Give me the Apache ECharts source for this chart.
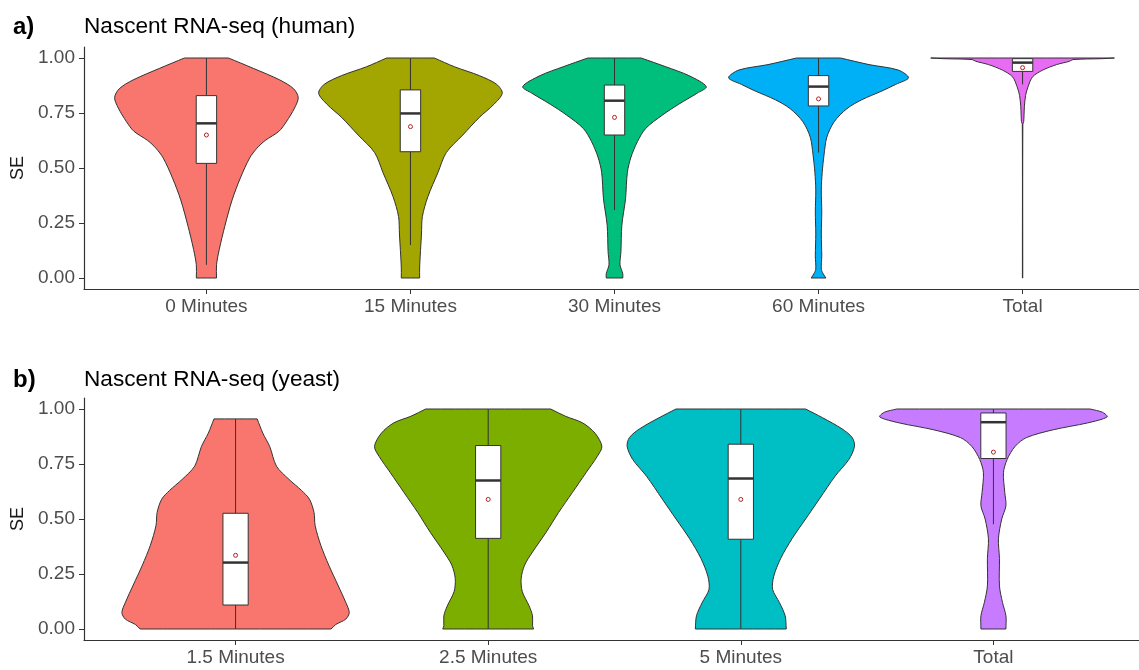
<!DOCTYPE html>
<html>
<head>
<meta charset="utf-8">
<script src="https://cdn.jsdelivr.net/npm/echarts@6/dist/echarts.min.js"></script>
<style>
  html, body { margin: 0; padding: 0; background: #fff; }
  #main { width: 1139px; height: 670px; }
</style>
</head>
<body>
<div id="main"></div>
<script>
// ---- data ----
// violin outlines: [SE value, relative half-width (1 = widest)]
var humanCats = ['0 Minutes', '15 Minutes', '30 Minutes', '60 Minutes', 'Total'];
var human0 = [[0,0.11],[0.06,0.11],[0.13,0.14],[0.235,0.20],[0.355,0.28],[0.455,0.37],[0.545,0.47],[0.59,0.55],[0.625,0.64],[0.667,0.79],[0.71,0.87],[0.773,0.96],[0.82,1.0],[0.86,0.95],[0.90,0.80],[0.953,0.51],[1.0,0.24]];
var human15 = [[0,0.10],[0.05,0.10],[0.20,0.12],[0.28,0.13],[0.37,0.19],[0.48,0.30],[0.57,0.39],[0.65,0.57],[0.73,0.75],[0.79,0.91],[0.84,1.0],[0.88,0.94],[0.92,0.75],[0.96,0.48],[1.0,0.26]];
var human30 = [[0,0.09],[0.02,0.09],[0.06,0.06],[0.12,0.07],[0.24,0.08],[0.36,0.12],[0.48,0.14],[0.55,0.18],[0.62,0.25],[0.68,0.34],[0.74,0.52],[0.79,0.70],[0.84,0.90],[0.87,1.0],[0.92,0.81],[0.96,0.56],[1.0,0.29]];
var human60 = [[0,0.08],[0.02,0.05],[0.04,0.03],[0.1,0.035],[0.2,0.03],[0.3,0.035],[0.4,0.03],[0.48,0.04],[0.56,0.06],[0.64,0.09],[0.71,0.17],[0.77,0.31],[0.81,0.47],[0.85,0.69],[0.88,0.84],[0.91,0.98],[0.945,0.87],[0.97,0.55],[1.0,0.24]];
var humanTot = [[0,0.002],[0.7,0.003],[0.71,0.012],[0.78,0.02],[0.83,0.033],[0.87,0.06],[0.915,0.11],[0.945,0.22],[0.97,0.37],[0.985,0.51],[0.993,0.55],[0.997,0.87],[1.0,1.0]];
// box: [lower whisker, q1, median, q3, upper whisker]
var humanBox = [[0.06,0.521,0.703,0.829,1.0],[0.15,0.574,0.748,0.855,1.0],[0.309,0.65,0.806,0.877,1.0],[0.57,0.782,0.87,0.92,1.0],[0.88,0.939,0.979,0.997,1.0]];
var humanMean = [0.65, 0.688, 0.73, 0.814, 0.956];

var yeastCats = ['1.5 Minutes', '2.5 Minutes', '5 Minutes', 'Total'];
var yeast15 = [[0,0.84],[0.02,0.88],[0.045,0.97],[0.075,1.0],[0.12,0.97],[0.20,0.90],[0.29,0.82],[0.38,0.75],[0.47,0.70],[0.53,0.69],[0.59,0.65],[0.63,0.58],[0.68,0.47],[0.74,0.36],[0.83,0.30],[0.89,0.24],[0.955,0.19]];
var yeast25 = [[0,0.40],[0.015,0.39],[0.06,0.39],[0.105,0.36],[0.17,0.30],[0.23,0.29],[0.29,0.32],[0.35,0.39],[0.44,0.51],[0.53,0.62],[0.62,0.74],[0.71,0.86],[0.785,0.96],[0.83,1.0],[0.89,0.94],[0.937,0.83],[0.967,0.68],[1.0,0.55]];
var yeast5 = [[0,0.40],[0.06,0.39],[0.12,0.34],[0.18,0.28],[0.24,0.29],[0.32,0.35],[0.41,0.45],[0.50,0.57],[0.59,0.69],[0.695,0.83],[0.77,0.95],[0.83,1.0],[0.87,0.98],[0.91,0.89],[0.96,0.72],[1.0,0.57]];
var yeastTot = [[0,0.11],[0.06,0.11],[0.12,0.08],[0.196,0.053],[0.32,0.053],[0.41,0.044],[0.50,0.073],[0.56,0.11],[0.62,0.10],[0.71,0.088],[0.77,0.12],[0.83,0.19],[0.87,0.29],[0.906,0.53],[0.937,0.83],[0.964,1.0],[0.985,0.96],[1.0,0.85]];
var yeastBox = [[0,0.109,0.302,0.526,0.955],[0,0.412,0.675,0.834,1.0],[0,0.408,0.684,0.84,1.0],[0.476,0.775,0.94,0.982,1.0]];
var yeastMean = [0.335, 0.589, 0.589, 0.804];

var yTicks = [0, 0.25, 0.5, 0.75, 1];

var humanColors = ['#F8766D', '#A3A500', '#00BF7D', '#00B0F6', '#E76BF3'];
var yeastColors = ['#F8766D', '#7CAE00', '#00BFC4', '#C77CFF'];

var HALF = 0.45;   // violin max half width (ggplot width 0.9)
var BOXW = 0.1;
var FONT = '"Liberation Sans", Arial, sans-serif';

var myChart = echarts.init(document.getElementById('main'));

function violinRender(profiles, colors) {
    return function (params, api) {
        var i = api.value(0);
        var prof = profiles[i];
        var n = prof.length;
        var pts = [];
        // right side bottom -> top, left side top -> bottom
        // end points doubled so the flat ends keep sharp corners when smoothed
        for (var k = 0; k < n; k++) {
            var p = api.coord([i + HALF * prof[k][1], prof[k][0]]);
            pts.push(p);
            if (k === 0 || k === n - 1) pts.push(p.slice());
        }
        for (var k = n - 1; k >= 0; k--) {
            var q = api.coord([i - HALF * prof[k][1], prof[k][0]]);
            pts.push(q);
            if (k === 0 || k === n - 1) pts.push(q.slice());
        }
        return {
            type: 'polygon',
            shape: { points: pts, smooth: 0.3 },
            style: { fill: colors[i], stroke: '#333', lineWidth: 1 }
        };
    };
}

function boxRender(stats, means) {
    return function (params, api) {
        var i = api.value(0);
        var s = stats[i];
        var lo = api.coord([i, s[0]]), q1 = api.coord([i, s[1]]), md = api.coord([i, s[2]]),
            q3 = api.coord([i, s[3]]), hi = api.coord([i, s[4]]);
        var xl = api.coord([i - BOXW / 2, 0])[0], xr = api.coord([i + BOXW / 2, 0])[0];
        var mn = api.coord([i, means[i]]);
        var ln = { stroke: '#333', lineWidth: 1 };
        return {
            type: 'group',
            children: [
                { type: 'line', shape: { x1: lo[0], y1: lo[1], x2: q1[0], y2: q1[1] }, style: ln },
                { type: 'line', shape: { x1: q3[0], y1: q3[1], x2: hi[0], y2: hi[1] }, style: ln },
                { type: 'rect', shape: { x: xl, y: q3[1], width: xr - xl, height: q1[1] - q3[1] },
                  style: { fill: '#fff', stroke: '#333', lineWidth: 1 } },
                { type: 'line', shape: { x1: xl, y1: md[1], x2: xr, y2: md[1] }, style: { stroke: '#333', lineWidth: 2.5 } },
                { type: 'circle', shape: { cx: mn[0], cy: mn[1], r: 2 }, style: { fill: '#fff', stroke: '#B22222', lineWidth: 1 } }
            ]
        };
    };
}

function xAxisFor(idx, cats) {
    var vals = cats.map(function (c, i) { return i; });
    return {
        gridIndex: idx, type: 'value', min: -0.6, max: cats.length - 0.4,
        splitLine: { show: false },
        axisLine: { onZero: false, lineStyle: { color: '#333', width: 1.2 } },
        axisTick: { customValues: vals, length: 5, lineStyle: { color: '#333' } },
        axisLabel: {
            customValues: vals, margin: 8, fontSize: 19, color: '#4D4D4D', fontFamily: FONT,
            formatter: function (v) { return cats[Math.round(v)]; }
        }
    };
}

function yAxisFor(idx) {
    return {
        gridIndex: idx, type: 'value', min: -0.05, max: 1.05,
        name: 'SE', nameLocation: 'middle', nameGap: 57,
        nameTextStyle: { fontSize: 18, color: '#1a1a1a', fontFamily: FONT },
        splitLine: { show: false },
        axisLine: { onZero: false, lineStyle: { color: '#333', width: 1.2 } },
        axisTick: { customValues: yTicks, length: 5, lineStyle: { color: '#333' } },
        axisLabel: {
            customValues: yTicks, margin: 9, fontSize: 19, color: '#4D4D4D', fontFamily: FONT,
            formatter: function (v) { return v.toFixed(2); }
        }
    };
}

var option = {
    backgroundColor: '#FFFFFF',
    animation: false,
    title: [
        { text: 'a)', left: 8, top: 10, textStyle: { fontSize: 24, fontWeight: 'bold', color: '#000', fontFamily: FONT } },
        { text: 'Nascent RNA-seq (human)', left: 79, top: 10, textStyle: { fontSize: 22.6, fontWeight: 'normal', color: '#000', fontFamily: FONT } },
        { text: 'b)', left: 8, top: 363, textStyle: { fontSize: 24, fontWeight: 'bold', color: '#000', fontFamily: FONT } },
        { text: 'Nascent RNA-seq (yeast)', left: 79, top: 363, textStyle: { fontSize: 22.6, fontWeight: 'normal', color: '#000', fontFamily: FONT } }
    ],
    grid: [
        { left: 84, top: 47, right: -6, height: 242, outerBoundsMode: 'none', containLabel: false },
        { left: 84, top: 398, right: -6, height: 242, outerBoundsMode: 'none', containLabel: false }
    ],
    xAxis: [xAxisFor(0, humanCats), xAxisFor(1, yeastCats)],
    yAxis: [yAxisFor(0), yAxisFor(1)],
    series: [
        {
            type: 'custom', xAxisIndex: 0, yAxisIndex: 0,
            renderItem: violinRender([human0, human15, human30, human60, humanTot], humanColors),
            data: humanCats.map(function (c, i) { return [i, 0]; })
        },
        {
            type: 'custom', xAxisIndex: 0, yAxisIndex: 0,
            renderItem: boxRender(humanBox, humanMean),
            data: humanCats.map(function (c, i) { return [i, 0]; })
        },
        {
            type: 'custom', xAxisIndex: 1, yAxisIndex: 1,
            renderItem: violinRender([yeast15, yeast25, yeast5, yeastTot], yeastColors),
            data: yeastCats.map(function (c, i) { return [i, 0]; })
        },
        {
            type: 'custom', xAxisIndex: 1, yAxisIndex: 1,
            renderItem: boxRender(yeastBox, yeastMean),
            data: yeastCats.map(function (c, i) { return [i, 0]; })
        }
    ]
};

myChart.setOption(option, true);
</script>
</body>
</html>
